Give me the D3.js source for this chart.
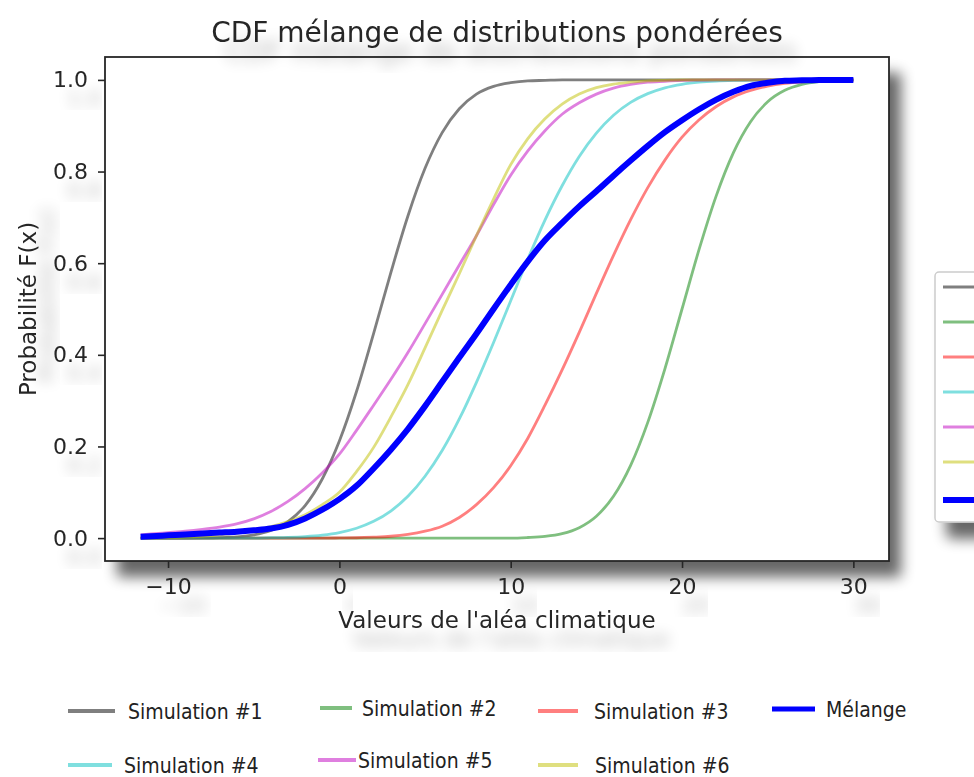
<!DOCTYPE html>
<html>
<head>
<meta charset="utf-8">
<script src="https://cdn.jsdelivr.net/npm/d3@7"></script>
<style>
  body { margin: 0; background: #fff; }
  svg { display: block; }
</style>
</head>
<body>
<script>
// values
var xs = [-11.6, -11, -10, -9, -8, -7, -6, -5, -4, -3, -2, -1, 0, 1, 2, 3, 4, 5, 6, 7, 8, 9, 10,
          11, 12, 13, 14, 15, 16, 17, 18, 19, 20, 21, 22, 23, 24, 25, 26, 27, 28, 29, 30]

var sim1 = [0, 0, 0, 0, 0.0003, 0.001, 0.0026, 0.0068, 0.0165, 0.036, 0.071, 0.129, 0.212, 0.320, 0.447,
            0.579, 0.703, 0.807, 0.885, 0.937, 0.969, 0.986, 0.994, 0.998, 0.999,
            1, 1, 1, 1, 1, 1, 1, 1, 1, 1, 1, 1, 1, 1, 1, 1, 1, 1]
var sim2 = [0, 0, 0, 0, 0, 0, 0, 0, 0, 0, 0, 0, 0, 0, 0, 0, 0, 0, 0, 0, 0, 0, 0,
            0.0013, 0.0038, 0.0098, 0.0228, 0.0478, 0.0912, 0.1587, 0.2525, 0.3694, 0.5,
            0.6306, 0.7475, 0.8413, 0.9088, 0.9522, 0.9772, 0.9902, 0.9962, 0.9987, 0.9996]
var sim3 = [0, 0, 0, 0, 0, 0, 0, 0, 0, 0, 0, 0,
            0.0003, 0.0007, 0.002, 0.004, 0.008, 0.015, 0.026, 0.045, 0.073, 0.110, 0.158, 0.218,
            0.290, 0.367, 0.449, 0.534, 0.617, 0.695, 0.765, 0.825, 0.875, 0.913, 0.942, 0.963,
            0.977, 0.9865, 0.9924, 0.9958, 0.9978, 0.9989, 0.9995]
var sim4 = [0, 0, 0, 0, 0, 0, 0, 0,
            0.0008, 0.0016, 0.0033, 0.0065, 0.0121, 0.0215, 0.0365, 0.059, 0.0912, 0.135, 0.191,
            0.260, 0.340, 0.427, 0.518, 0.609, 0.694, 0.769, 0.833, 0.884, 0.923, 0.951, 0.970,
            0.9828, 0.9905, 0.995, 0.9975, 0.9988, 0.9994, 0.9997, 0.9999, 1, 1, 1, 1]
var sim5 = [0.007, 0.009, 0.012, 0.015, 0.019, 0.024, 0.031, 0.042, 0.058, 0.080,
            0.108, 0.142, 0.183, 0.235, 0.290, 0.346, 0.405, 0.468, 0.532, 0.596,
            0.660, 0.728, 0.792, 0.845, 0.889, 0.925, 0.950, 0.969, 0.982, 0.990,
            0.995, 0.997, 0.999, 0.9995, 1, 1, 1, 1, 1, 1, 1, 1, 1]
var sim6 = [0.001, 0.001, 0.001, 0.002, 0.004, 0.007, 0.011, 0.017, 0.025, 0.036,
            0.051, 0.073, 0.100, 0.145, 0.198, 0.264, 0.335, 0.415, 0.497, 0.577,
            0.660, 0.740, 0.815, 0.872, 0.915, 0.947, 0.969, 0.983, 0.991, 0.995,
            0.998, 0.999, 1, 1, 1, 1, 1, 1, 1, 1, 1, 1, 1]
var melange = [0.003, 0.004, 0.006, 0.008, 0.010, 0.012, 0.014, 0.017, 0.021, 0.029,
               0.043, 0.062, 0.085, 0.114, 0.152, 0.193, 0.238, 0.288, 0.341, 0.394,
               0.446, 0.500, 0.553, 0.604, 0.650, 0.688, 0.724, 0.757, 0.791, 0.824,
               0.856, 0.886, 0.912, 0.936, 0.957, 0.974, 0.987, 0.994, 0.998, 0.999, 1, 1, 1]

var seriesNames = ["Simulation #1", "Simulation #2", "Simulation #3", "Simulation #4",
                   "Simulation #5", "Simulation #6", "Mélange"]
var seriesValues = [sim1, sim2, sim3, sim4, sim5, sim6, melange]
var seriesColors = ["#000000", "#008000", "#ff0000", "#00bfbf", "#bf00bf", "#bfbf00", "#0000ff"]
var xTicks = [-10, 0, 10, 20, 30]
var yTicks = [0, 0.2, 0.4, 0.6, 0.8, 1.0]

var width = 974, height = 777
var plot = {left: 105, right: 889, top: 57, bottom: 561}
var font = "'DejaVu Sans', sans-serif"
var ink = "#262626"

var svg = d3.select("body").append("svg")
    .attr("width", width)
    .attr("height", height)

svg.append("rect").attr("width", width).attr("height", height).attr("fill", "#fff")

// blurry drop shadows like the screenshot
var defs = svg.append("defs")
function shadow(id, dx, dy, blur, alpha) {
    var f = defs.append("filter").attr("id", id)
        .attr("x", "-30%").attr("y", "-30%").attr("width", "170%").attr("height", "200%")
    f.append("feGaussianBlur").attr("in", "SourceAlpha").attr("stdDeviation", blur).attr("result", "b")
    f.append("feOffset").attr("in", "b").attr("dx", dx).attr("dy", dy).attr("result", "o")
    f.append("feComponentTransfer").attr("in", "o").attr("result", "s")
        .append("feFuncA").attr("type", "linear").attr("slope", alpha)
    var m = f.append("feMerge")
    m.append("feMergeNode").attr("in", "s")
    m.append("feMergeNode").attr("in", "SourceGraphic")
}
shadow("boxShadow", 12, 16, 7, 0.6)
shadow("textShadow", 14, 19, 7, 0.28)

var x = d3.scaleLinear().domain([-13.68, 32.08]).range([plot.left, plot.right])
var y = d3.scaleLinear().domain([-0.05, 1.05]).range([plot.bottom, plot.top])

svg.append("rect")
    .attr("x", plot.left).attr("y", plot.top)
    .attr("width", plot.right - plot.left).attr("height", plot.bottom - plot.top)
    .attr("fill", "#fff")
    .attr("filter", "url(#boxShadow)")

var line = d3.line()
    .x(function (d) { return x(d[0]) })
    .y(function (d) { return y(d[1]) })
    .curve(d3.curveMonotoneX)

seriesValues.forEach(function (vals, i) {
    var pts = xs.map(function (v, j) { return [v, vals[j]] })
    var last = i == seriesValues.length - 1
    svg.append("path")
        .attr("d", line(pts))
        .attr("fill", "none")
        .attr("stroke", seriesColors[i])
        .attr("stroke-opacity", last ? 1 : 0.5)
        .attr("stroke-width", last ? 6 : 2.8)
        .attr("stroke-linejoin", "round")
})

// frame
svg.append("rect")
    .attr("x", plot.left).attr("y", plot.top)
    .attr("width", plot.right - plot.left).attr("height", plot.bottom - plot.top)
    .attr("fill", "none")
    .attr("stroke", ink)
    .attr("stroke-width", 1.8)

var gx = svg.append("g")
    .attr("transform", "translate(0," + plot.bottom + ")")
    .call(d3.axisBottom(x).tickValues(xTicks).tickSize(7).tickPadding(10).tickFormat(d3.format("d")))
var gy = svg.append("g")
    .attr("transform", "translate(" + plot.left + ",0)")
    .call(d3.axisLeft(y).tickValues(yTicks).tickSize(7).tickPadding(10).tickFormat(d3.format(".1f")))

;[gx, gy].forEach(function (g) {
    g.select(".domain").remove()
    g.selectAll(".tick line").attr("stroke", ink).attr("stroke-width", 1.6)
    g.selectAll(".tick text")
        .attr("fill", ink)
        .style("font-family", font)
        .style("font-size", "22px")
        .attr("filter", "url(#textShadow)")
})

svg.append("text")
    .attr("x", (plot.left + plot.right) / 2).attr("y", 42)
    .attr("text-anchor", "middle")
    .style("font-family", font).style("font-size", "28px")
    .attr("fill", ink)
    .attr("filter", "url(#textShadow)")
    .text("CDF mélange de distributions pondérées")

svg.append("text")
    .attr("x", (plot.left + plot.right) / 2).attr("y", 628)
    .attr("text-anchor", "middle")
    .style("font-family", font).style("font-size", "23px")
    .attr("fill", ink)
    .attr("filter", "url(#textShadow)")
    .text("Valeurs de l'aléa climatique")

svg.append("text")
    .attr("transform", "translate(36," + (plot.top + plot.bottom) / 2 + ") rotate(-90)")
    .attr("text-anchor", "middle")
    .style("font-family", font).style("font-size", "23px")
    .attr("fill", ink)
    .attr("filter", "url(#textShadow)")
    .text("Probabilité F(x)")

// right legend, cut by the picture edge
var rl = svg.append("g")
rl.append("rect")
    .attr("x", 935).attr("y", 272).attr("width", 90).attr("height", 250).attr("rx", 4)
    .attr("fill", "#fff").attr("stroke", "#cccccc").attr("stroke-width", 1.5)
    .attr("filter", "url(#boxShadow)")
seriesNames.forEach(function (name, i) {
    var last = i == seriesNames.length - 1
    rl.append("line")
        .attr("x1", 943).attr("x2", 990)
        .attr("y1", 287 + i * 35 + (last ? 3 : 0)).attr("y2", 287 + i * 35 + (last ? 3 : 0))
        .attr("stroke", seriesColors[i])
        .attr("stroke-opacity", last ? 1 : 0.5)
        .attr("stroke-width", last ? 6 : 3)
})

// bottom legend
var legendPos = [
    {lx: 68, lw: 47, tx: 128, y: 711},
    {lx: 320, lw: 32, tx: 362, y: 708},
    {lx: 538, lw: 40, tx: 594, y: 711},
    {lx: 68, lw: 44, tx: 124, y: 765},
    {lx: 318, lw: 38, tx: 358, y: 760},
    {lx: 538, lw: 40, tx: 595, y: 765},
    {lx: 772, lw: 43, tx: 826, y: 709}
]
var bl = svg.append("g")
seriesNames.forEach(function (name, i) {
    var p = legendPos[i]
    var last = i == seriesNames.length - 1
    bl.append("line")
        .attr("x1", p.lx).attr("x2", p.lx + p.lw)
        .attr("y1", p.y).attr("y2", p.y)
        .attr("stroke", seriesColors[i])
        .attr("stroke-opacity", last ? 1 : 0.5)
        .attr("stroke-width", last ? 5 : 4)
    bl.append("text")
        .attr("x", p.tx).attr("y", p.y)
        .attr("dy", "0.36em")
        .style("font-family", "'DejaVu Sans Condensed', 'Liberation Sans Narrow', sans-serif")
        .style("font-size", "21px")
        .attr("fill", "#222")
        .text(name)
})
</script>
</body>
</html>
